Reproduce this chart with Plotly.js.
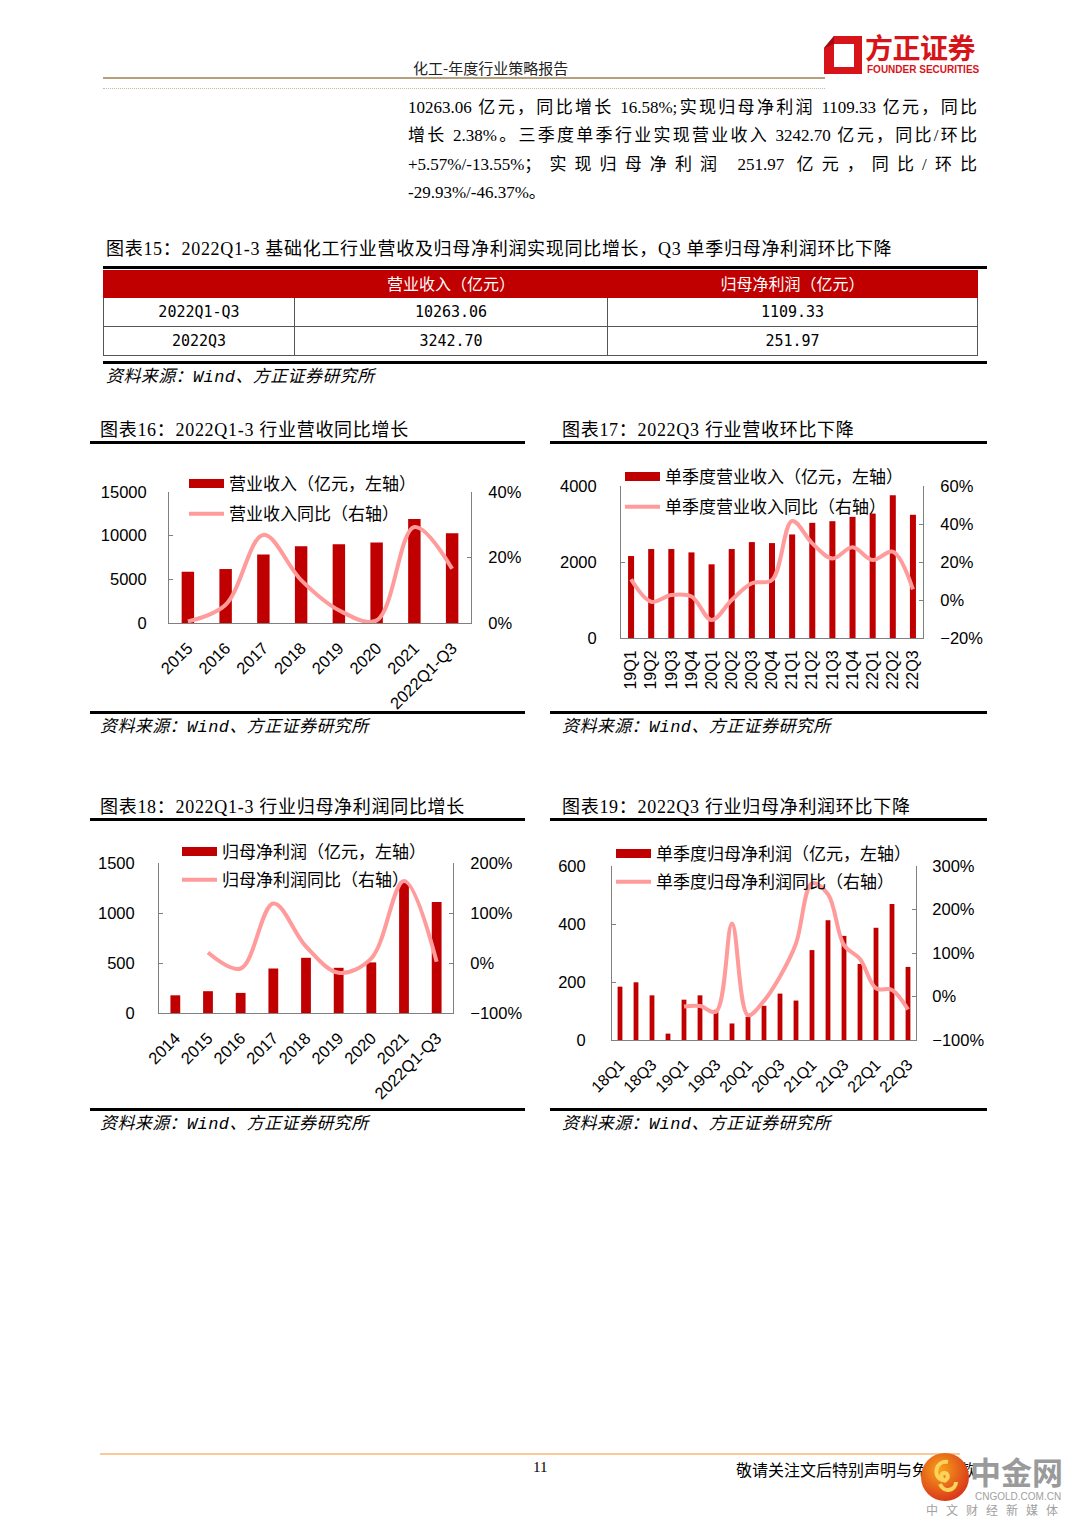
<!DOCTYPE html>
<html><head><meta charset="utf-8">
<script src="https://cdn.plot.ly/plotly-3.0.1.min.js"></script>
<style>
body{margin:0;width:1080px;height:1527px;position:relative;background:#fff;font-family:"Liberation Serif","Noto Sans CJK SC",serif;color:#000;overflow:hidden}
.a{position:absolute;white-space:nowrap}
.rule{position:absolute;background:#000}
.body{position:absolute;left:408px;width:569px;font-size:17px;line-height:28px;height:28px;text-align:justify;text-align-last:justify;white-space:nowrap}
.ftitle{position:absolute;font-size:18px;line-height:24px;letter-spacing:0.7px;font-family:"Liberation Serif","Noto Sans CJK SC",serif}
.src{position:absolute;font-size:17px;line-height:22px;letter-spacing:0.4px;font-style:italic;font-family:"Liberation Mono","Noto Sans CJK SC",monospace}
table{position:absolute;left:103px;top:270px;width:874px;border-collapse:collapse;table-layout:fixed}
td,th{border:1px solid #555;text-align:center;padding:0;font-weight:normal;box-sizing:border-box}
th{background:#C00000;color:#fff;height:27px;font-size:16px;line-height:18px;font-family:"Noto Sans CJK SC",sans-serif;border-color:#C00000;vertical-align:top;padding-top:3px}
td{height:29px;font-size:15px;line-height:18px;font-family:"DejaVu Sans Mono","Noto Sans CJK SC",monospace}
.chart{position:absolute}
</style></head><body>

<!-- header -->
<div class="a" style="left:413px;top:58px;font-size:15px;line-height:20px;font-family:'Noto Sans CJK SC',sans-serif;color:#222">化工-年度行业策略报告</div>
<div class="rule" style="left:103px;top:77px;width:722px;height:2px;background:#b5a27c"></div>
<div class="a" style="left:103px;top:88px;width:722px;border-top:1px dotted #c9b99a"></div>
<svg class="a" style="left:820px;top:34px" width="46" height="42" viewBox="0 0 46 42">
  <path d="M14 2 H42 V40 H4 V14 Z M14 10 V33 H34 V10 Z" fill="#d7141a" fill-rule="evenodd"/>
  <path d="M4 14 L14 10 L14 2 Z" fill="#9e0e12"/>
</svg>
<div class="a" style="left:865px;top:31px;font-size:28px;line-height:32px;font-weight:bold;color:#d7141a;font-family:'Noto Sans CJK SC',sans-serif;letter-spacing:-0.5px">方正证券</div>
<div class="a" style="left:867px;top:64px;font-size:10px;line-height:12px;font-weight:bold;color:#d7141a;font-family:'Liberation Sans',sans-serif">FOUNDER SECURITIES</div>

<!-- body text -->
<div class="body" style="top:94px">10263.06 亿元，同比增长 16.58%;实现归母净利润 1109.33 亿元，同比</div>
<div class="body" style="top:122px">增长 2.38%。三季度单季行业实现营业收入 3242.70 亿元，同比/环比</div>
<div class="body" style="top:151px">+5.57%/-13.55%；实现归母净利润 251.97 亿元，同比/环比</div>
<div class="body" style="top:179px;text-align-last:left">-29.93%/-46.37%。</div>

<!-- table figure -->
<div class="ftitle" style="left:106px;top:237px">图表15：2022Q1-3 基础化工行业营收及归母净利润实现同比增长，Q3 单季归母净利润环比下降</div>
<div class="rule" style="left:103px;top:266px;width:884px;height:3px"></div>
<table>
<colgroup><col style="width:191px"><col style="width:313px"><col style="width:370px"></colgroup>
<tr><th></th><th>营业收入（亿元）</th><th>归母净利润（亿元）</th></tr>
<tr><td>2022Q1-Q3</td><td>10263.06</td><td>1109.33</td></tr>
<tr><td>2022Q3</td><td>3242.70</td><td>251.97</td></tr>
</table>
<div class="rule" style="left:103px;top:361px;width:884px;height:3px"></div>
<div class="src" style="left:106px;top:367px">资料来源：Wind、方正证券研究所</div>

<!-- figure titles and rules -->
<div class="ftitle" style="left:100px;top:418px">图表16：2022Q1-3 行业营收同比增长</div>
<div class="ftitle" style="left:562px;top:418px">图表17：2022Q3 行业营收环比下降</div>
<div class="rule" style="left:90px;top:441px;width:435px;height:3px"></div>
<div class="rule" style="left:550px;top:441px;width:437px;height:3px"></div>
<div class="rule" style="left:90px;top:711px;width:435px;height:3px"></div>
<div class="rule" style="left:550px;top:711px;width:437px;height:3px"></div>
<div class="src" style="left:100px;top:717px">资料来源：Wind、方正证券研究所</div>
<div class="src" style="left:562px;top:717px">资料来源：Wind、方正证券研究所</div>

<div class="ftitle" style="left:100px;top:795px">图表18：2022Q1-3 行业归母净利润同比增长</div>
<div class="ftitle" style="left:562px;top:795px">图表19：2022Q3 行业归母净利润环比下降</div>
<div class="rule" style="left:90px;top:818px;width:435px;height:3px"></div>
<div class="rule" style="left:550px;top:818px;width:437px;height:3px"></div>
<div class="rule" style="left:90px;top:1108px;width:435px;height:3px"></div>
<div class="rule" style="left:550px;top:1108px;width:437px;height:3px"></div>
<div class="src" style="left:100px;top:1114px">资料来源：Wind、方正证券研究所</div>
<div class="src" style="left:562px;top:1114px">资料来源：Wind、方正证券研究所</div>

<div id="c16" class="chart" style="left:90px;top:445px"></div>
<div id="c17" class="chart" style="left:550px;top:445px"></div>
<div id="c18" class="chart" style="left:90px;top:822px"></div>
<div id="c19" class="chart" style="left:550px;top:822px"></div>

<!-- footer -->
<div class="rule" style="left:100px;top:1453px;width:860px;height:2px;background:#f9c89b"></div>
<div class="a" style="left:533px;top:1457px;font-size:15px;line-height:20px">11</div>
<div class="a" style="left:736px;top:1459px;font-size:16px;line-height:21px;font-family:'Noto Sans CJK SC',sans-serif">敬请关注文后特别声明与免责条款</div>
<svg class="a" style="left:918px;top:1450px" width="56" height="56" viewBox="0 0 56 56">
  <defs><radialGradient id="g" cx="40%" cy="35%" r="70%"><stop offset="0" stop-color="#f7a21b"/><stop offset="1" stop-color="#d8321a"/></radialGradient></defs>
  <circle cx="27" cy="27" r="24" fill="url(#g)"/>
  <path d="M30 12 C18 10 14 26 24 30 C30 32 32 24 27 23 C22 22 22 30 28 31" stroke="#fbd35a" stroke-width="4" fill="none"/>
  <path d="M22 34 C26 44 38 40 38 32" stroke="#fbd35a" stroke-width="4" fill="none"/>
</svg>
<div class="a" style="left:970px;top:1455px;font-size:31px;line-height:32px;color:#9a9a9a;font-family:'Noto Sans CJK SC',sans-serif;font-weight:bold">中金网</div>
<div class="a" style="left:975px;top:1491px;font-size:10px;line-height:11px;color:#a0a0a0;font-family:'Liberation Sans',sans-serif">CNGOLD.COM.CN</div>
<div class="a" style="left:926px;top:1503px;font-size:12px;line-height:14px;color:#a0a0a0;font-family:'Noto Sans CJK SC',sans-serif;letter-spacing:8px">中文财经新媒体</div>

<script>
// ===== data =====
// 图表16
const revYears = ['2015','2016','2017','2018','2019','2020','2021','2022Q1-Q3'];
const revValues = [5870, 6180, 7830, 8790, 9020, 9210, 11900, 10263.06];
const revYoY = [0.005, 0.056, 0.269, 0.131, 0.039, 0.008, 0.293, 0.1658];
// 图表17
const qLabels = ['19Q1','19Q2','19Q3','19Q4','20Q1','20Q2','20Q3','20Q4','21Q1','21Q2','21Q3','21Q4','22Q1','22Q2','22Q3'];
const qRevenue = [2157, 2341, 2341, 2253, 1939, 2341, 2524, 2498, 2725, 3031, 3074, 3188, 3275, 3755, 3242.70];
const qRevYoY = [0.109, -0.009, 0.026, 0.018, -0.105, 0.0, 0.088, 0.105, 0.416, 0.298, 0.219, 0.277, 0.21, 0.254, 0.0557];
// 图表18
const npYears = ['2014','2015','2016','2017','2018','2019','2020','2021','2022Q1-Q3'];
const npValues = [177, 218, 201, 445, 552, 452, 506, 1299, 1109.33];
const npYoY = [null, 0.21, -0.11, 1.19, 0.33, -0.195, 0.094, 1.64, 0.0238];
// 图表19
const qpLabels = ['18Q1','18Q2','18Q3','18Q4','19Q1','19Q2','19Q3','19Q4','20Q1','20Q2','20Q3','20Q4','21Q1','21Q2','21Q3','21Q4','22Q1','22Q2','22Q3'];
const qpValues = [184, 199, 154, 22, 139, 154, 104, 57, 80, 118, 160, 136, 310, 413, 359, 262, 387, 469, 251.97];
const qpYoY = [null, null, null, null, -0.23, -0.22, -0.35, 1.68, -0.43, -0.10, 0.46, 1.22, 2.6, 2.35, 1.18, 0.86, 0.19, 0.15, -0.2993];

// legend names
const n16 = ['营业收入（亿元，左轴）', '营业收入同比（右轴）'];
const n17 = ['单季度营业收入（亿元，左轴）', '单季度营业收入同比（右轴）'];
const n18 = ['归母净利润（亿元，左轴）', '归母净利润同比（右轴）'];
const n19 = ['单季度归母净利润（亿元，左轴）', '单季度归母净利润同比（右轴）'];

// ===== style =====
const BAR = '#C00000', LINE = '#FF9B9B', AX = '#808080';
const NUMF = 'Liberation Sans, Arial, sans-serif';
const CJK = 'Noto Sans CJK SC, sans-serif';

function build(id, cats, bars, yoy, names, o) {
  const W = o.w, H = o.h, m = o.m;
  const pw = W - m.l - m.r, ph = H - m.t - m.b;
  const traces = [
    {type:'bar', x:cats, y:bars, marker:{color:BAR}, showlegend:false, hoverinfo:'skip'},
    {type:'scatter', x:[null], y:[null], mode:'lines', line:{color:BAR, width:9}, name:names[0], legendgroup:'a'},
    {type:'scatter', x:cats, y:yoy, yaxis:'y2', mode:'lines', line:{color:LINE, width:4, shape:'spline', smoothing:1}, name:names[1], legendgroup:'b', connectgaps:false, hoverinfo:'skip'}
  ];
  const yl = {showline:true, linecolor:AX, linewidth:1, ticks:'inside', ticklen:4, tickcolor:AX,
              showgrid:false, zeroline:false, tickfont:{family:NUMF, size:16.5, color:'#000'}, fixedrange:true};
  const layout = {
    width:W, height:H, margin:{l:m.l, r:m.r, t:m.t, b:m.b, pad:0},
    paper_bgcolor:'rgba(0,0,0,0)', plot_bgcolor:'rgba(0,0,0,0)',
    showlegend:true, bargap:o.bargap,
    legend:{x:(o.lx - m.l)/pw, y:1 + (m.t - o.ly)/ph, xanchor:'left', yanchor:'top', bgcolor:'rgba(0,0,0,0)',
            font:{family:CJK, size:17, color:'#000'}, itemwidth:35, tracegroupgap:o.gap, traceorder:'grouped'},
    xaxis:Object.assign({type:'category', showline:true, linecolor:AX, linewidth:1, ticks:'', showgrid:false, zeroline:false,
            tickangle:o.xang, tickfont:{family:NUMF, size:o.xfs || 16.5, color:'#000'}, ticklabelstandoff:o.xso, fixedrange:true},
            o.tickvals ? {tickmode:'array', tickvals:o.tickvals, ticktext:o.tickvals} : {}),
    yaxis:Object.assign({}, yl, {range:o.yr, dtick:o.ydt, tick0:0, tickformat:'d', ticklabelstandoff:o.lso}),
    yaxis2:Object.assign({}, yl, {overlaying:'y', side:'right', range:o.y2r, dtick:o.y2dt, tick0:0, tickformat:'.0%', ticklabelstandoff:o.rso})
  };
  Plotly.newPlot(id, traces, layout, {staticPlot:true, displayModeBar:false});
}

build('c16', revYears, revValues, revYoY, n16,
  {w:435, h:285, m:{l:79, r:54, t:47, b:107}, bargap:0.67, yr:[0,15000], ydt:5000, y2r:[0,0.4], y2dt:0.2,
   xang:-45, xso:8, lso:18, rso:13, lx:94, ly:21, gap:5});
build('c17', qLabels, qRevenue, qRevYoY, n17,
  {w:437, h:280, m:{l:71, r:64, t:41, b:87}, bargap:0.7, yr:[0,4000], ydt:2000, y2r:[-0.2,0.6], y2dt:0.2,
   xang:-90, xso:5, lso:20, rso:13, lx:70, ly:14, gap:5, xfs:16});
build('c18', npYears, npValues, npYoY, n18,
  {w:435, h:295, m:{l:69, r:72, t:41, b:104}, bargap:0.7, yr:[0,1500], ydt:500, y2r:[-1,2], y2dt:1,
   xang:-45, xso:8, lso:20, rso:13, lx:87, ly:12, gap:3});
build('c19', qpLabels, qpValues, qpYoY, n19,
  {w:437, h:295, m:{l:62, r:71, t:44, b:77}, bargap:0.7, yr:[0,600], ydt:200, y2r:[-1,3], y2dt:1,
   xang:-45, xso:8, lso:22, rso:12, lx:61, ly:14, gap:3, xfs:16,
   tickvals:qpLabels.filter((c,i)=>i%2===0)});
</script>
</body></html>
